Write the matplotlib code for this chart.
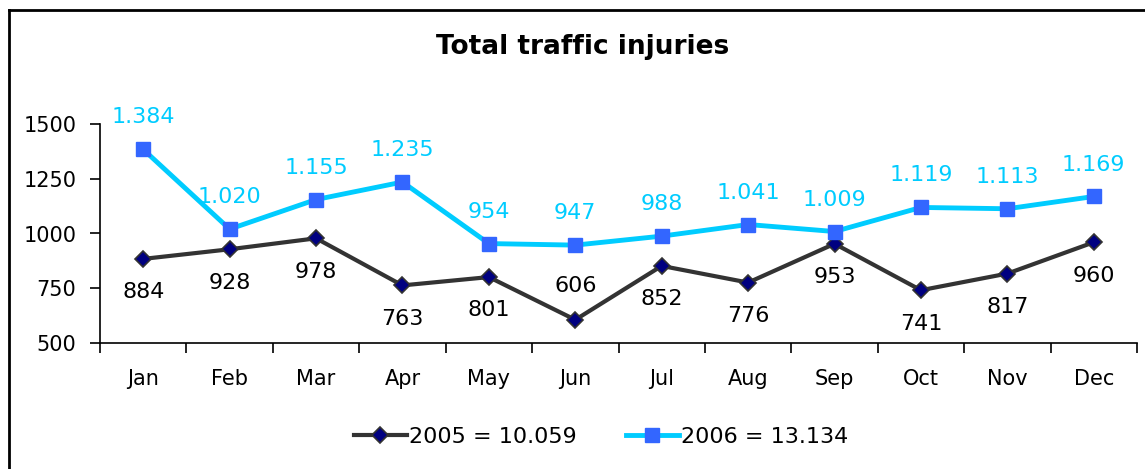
import matplotlib.pyplot as plt
from matplotlib.lines import Line2D
import numpy as np

months = ['Jan', 'Feb', 'Mar', 'Apr', 'May', 'Jun',
          'Jul', 'Aug', 'Sep', 'Oct', 'Nov', 'Dec']
inj_2005 = [884, 928, 978, 763, 801, 606, 852, 776, 953, 741, 817, 960]
inj_2006 = [1384, 1020, 1155, 1235, 954, 947, 988, 1041, 1009, 1119, 1113, 1169]
label_2005 = '2005 = 10.059'
label_2006 = '2006 = 13.134'

plt.rcParams['font.family'] = 'DejaVu Sans'

fig = plt.figure(figsize=(11.45, 4.69), dpi=100)
ax = fig.add_axes([100 / 1145, 1 - 343 / 469, 1037 / 1145, 219 / 469])

x = np.arange(len(months))
ax.plot(x, inj_2005, color='#333333', lw=3, marker='D', ms=8,
        mfc='#000080', mec='#333333', mew=1.2, label=label_2005, zorder=3)
ax.plot(x, inj_2006, color='#00CCFF', lw=3.5, marker='s', ms=10,
        mfc='#3366FF', mec='#3366FF', label=label_2006, zorder=3)

for i, v in enumerate(inj_2006):
    ax.annotate(f"{v:,}".replace(",", "."), (i, v), xytext=(0, 23),
                textcoords='offset points', ha='center', va='center',
                color='#00CCFF', fontsize=16)
for i, v in enumerate(inj_2005):
    # the June label sits above its point in the original
    dy = 24 if months[i] == 'Jun' else -24
    ax.annotate(str(v), (i, v), xytext=(0, dy),
                textcoords='offset points', ha='center', va='center',
                color='black', fontsize=16)

ax.set_xlim(-0.5, len(months) - 0.5)
ax.set_ylim(500, 1500)
ax.set_yticks([500, 750, 1000, 1250, 1500])
ax.set_xticks(np.arange(-0.5, len(months), 1.0))
ax.set_xticklabels([])
ax.set_xticks(x, minor=True)
ax.set_xticklabels(months, minor=True)
ax.tick_params(axis='x', which='major', direction='out', length=7, width=1.2)
ax.tick_params(axis='x', which='minor', length=0, pad=19, labelsize=15)
ax.tick_params(axis='y', direction='out', length=7, width=1.2, labelsize=15,
               pad=10)
for s in ['top', 'right']:
    ax.spines[s].set_visible(False)
for s in ['left', 'bottom']:
    ax.spines[s].set_linewidth(1.2)

fig.text(583 / 1145, 1 - 47 / 469, 'Total traffic injuries', ha='center',
         va='center', fontsize=19, fontweight='bold')

fig.legend(loc='center', bbox_to_anchor=(601 / 1145, 1 - 437 / 469), ncol=2,
           frameon=False, fontsize=16, handlelength=2.4, columnspacing=2.2,
           handletextpad=0.1)

# outer chart frame (only left and top edges fall inside the image)
fig.add_artist(Line2D([8.5 / 1145, 8.5 / 1145], [0, 1 - 10 / 469], color='black',
                      lw=2, transform=fig.transFigure))
fig.add_artist(Line2D([8.5 / 1145, 1], [1 - 10 / 469, 1 - 10 / 469], color='black',
                      lw=2, transform=fig.transFigure))

fig.savefig('out.png', dpi=100)
